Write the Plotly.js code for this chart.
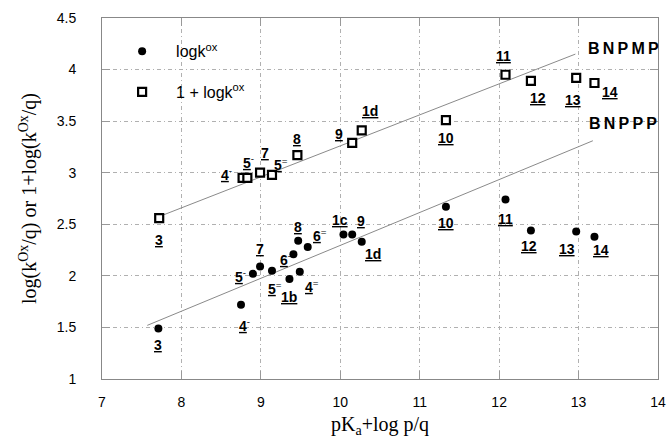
<!DOCTYPE html>
<html>
<head>
<meta charset="utf-8">
<script src="https://cdn.plot.ly/plotly-3.0.1.min.js"></script>
<style>html,body{margin:0;padding:0;background:#fff;}#chart{width:671px;height:444px;}</style>
</head>
<body>
<div id="chart"></div>
<script>
// logk^ox (filled circles)
const circNums    = ['3','4','5','7','5','1b','4','6','8','6','1c','9','1d','10','11','12','13','14'];
const circCharges = ['', '-','-','', '=','',  '=','-','', '=','',  '', '',  '',  '',  '',  '',  ''];
const circX = [7.71, 8.75, 8.90, 8.99, 9.14, 9.36, 9.49, 9.41, 9.47, 9.59, 10.04, 10.15, 10.27, 11.33, 12.08, 12.40, 12.97, 13.20];
const circY = [1.49, 1.72, 2.02, 2.09, 2.05, 1.97, 2.04, 2.21, 2.34, 2.28, 2.40, 2.40, 2.33, 2.67, 2.74, 2.44, 2.43, 2.38];

// 1 + logk^ox (open squares)
const sqNums    = ['3','4','5','7','5','8','9','1d','10','11','12','13','14'];
const sqCharges = ['', '-','-','', '=','', '', '',  '',  '',  '',  '',  ''];
const sqX = [7.72, 8.77, 8.83, 8.99, 9.14, 9.46, 10.15, 10.27, 11.33, 12.08, 12.40, 12.97, 13.20];
const sqY = [2.56, 2.95, 2.95, 3.00, 2.98, 3.17, 3.29, 3.41, 3.51, 3.95, 3.89, 3.92, 3.87];

// regression lines (end points)
const lineMPx = [7.77, 12.96];
const lineMPy = [2.59, 4.15];
const linePPx = [7.57, 13.18];
const linePPy = [1.52, 3.31];

const xTicks = [7, 8, 9, 10, 11, 12, 13, 14];
const yTicks = [1, 1.5, 2, 2.5, 3, 3.5, 4, 4.5];

// label offsets in pixels [dx, dy(down)]
const circOff = [[0,17],[0,20],[-15,2],[0,-18],[0,17],[0,18],[9,14],[-11,5],[0,-14],[9,-12],[-3,-15],[9,-14],[11,12],[0,16],[0,19],[-2,16],[-9,17],[7,13]];
const sqOff = [[0,22],[-19,-4],[-2,-16],[5,-20],[6,-11],[0,-16],[-13,-9],[8,-19],[0,18],[-2,-19],[7,17],[-3,22],[16,9]];

function lab(num, ch){
  return '<b><u>' + num + '</u></b>' + (ch ? '<sup>' + ch + '</sup>' : '');
}
const annotations = [];
function addLabels(xs, ys, nums, chs, offs){
  for (let i = 0; i < xs.length; i++){
    annotations.push({
      x: xs[i], y: ys[i], xref: 'x', yref: 'y',
      text: lab(nums[i], chs[i]), showarrow: false,
      xshift: offs[i][0] + (chs[i] ? 3 : 0), yshift: -offs[i][1],
      font: {family: 'Liberation Sans, Arial, sans-serif', size: 14, color: '#000'}
    });
  }
}
addLabels(circX, circY, circNums, circCharges, circOff);
addLabels(sqX, sqY, sqNums, sqCharges, sqOff);
const ts = '\u2009';
annotations.push({x: 13.56, y: 4.2, xref:'x', yref:'y', text:'<b>' + ['B','N','P','M','P'].join(ts) + '</b>', showarrow:false,
  font:{family:'Liberation Sans, Arial, sans-serif', size:16, color:'#000'}});
annotations.push({x: 13.56, y: 3.48, xref:'x', yref:'y', text:'<b>' + ['B','N','P','P','P'].join(ts) + '</b>', showarrow:false,
  font:{family:'Liberation Sans, Arial, sans-serif', size:16, color:'#000'}});

const traces = [
  {x: lineMPx, y: lineMPy, mode:'lines', line:{color:'#8a8a8a', width:1}, showlegend:false, hoverinfo:'skip'},
  {x: linePPx, y: linePPy, mode:'lines', line:{color:'#8a8a8a', width:1}, showlegend:false, hoverinfo:'skip'},
  {x: circX, y: circY, mode:'markers', name:'logk<sup>ox</sup>', legendgroup:'a',
   marker:{symbol:'circle', size:8, color:'#000'}},
  {x: sqX, y: sqY, mode:'markers', name:'1 + logk<sup>ox</sup>', legendgroup:'b',
   marker:{symbol:'square', size:8, color:'#fff', line:{color:'#000', width:2.2}}}
];

const axisCommon = {
  showline: true, linecolor: '#888', linewidth: 1, mirror: 'ticks',
  ticks: 'inside', ticklen: 8, tickcolor: '#999',
  showgrid: true, gridcolor: '#b0b0b0', griddash: '4px,3px,1px,3px', gridwidth: 1,
  zeroline: false,
  tickfont: {family: 'Liberation Sans, Arial, sans-serif', size: 14, color: '#000'}
};

const layout = {
  width: 671, height: 444,
  margin: {l: 102, r: 13, t: 18, b: 65},
  paper_bgcolor: '#fff', plot_bgcolor: '#fff',
  showlegend: true,
  legend: {x: 0.011, y: 0.955, xanchor: 'left', yanchor: 'top', bgcolor: 'rgba(0,0,0,0)',
    traceorder: 'grouped', tracegroupgap: 17, itemwidth: 58,
    font: {family: 'Liberation Sans, Arial, sans-serif', size: 16, color: '#000'}},
  xaxis: Object.assign({}, axisCommon, {
    range: [7, 14], tickvals: xTicks, ticktext: xTicks.map(String), ticklabelstandoff: 10,
    title: {text: 'pK<sub>a</sub>+log p/q', standoff: 8,
      font: {family: 'Liberation Serif, Times New Roman, serif', size: 20, color: '#000'}}
  }),
  yaxis: Object.assign({}, axisCommon, {
    range: [1, 4.5], tickvals: yTicks, ticktext: yTicks.map(String), ticklabelstandoff: 22,
    title: {text: 'log(k<sup>Ox</sup>/q) or 1+log(k<sup>Ox</sup>/q)', standoff: 14,
      font: {family: 'Liberation Serif, Times New Roman, serif', size: 20, color: '#000'}}
  }),
  annotations: annotations
};

Plotly.newPlot('chart', traces, layout, {displayModeBar: false, staticPlot: true});
</script>
</body>
</html>
